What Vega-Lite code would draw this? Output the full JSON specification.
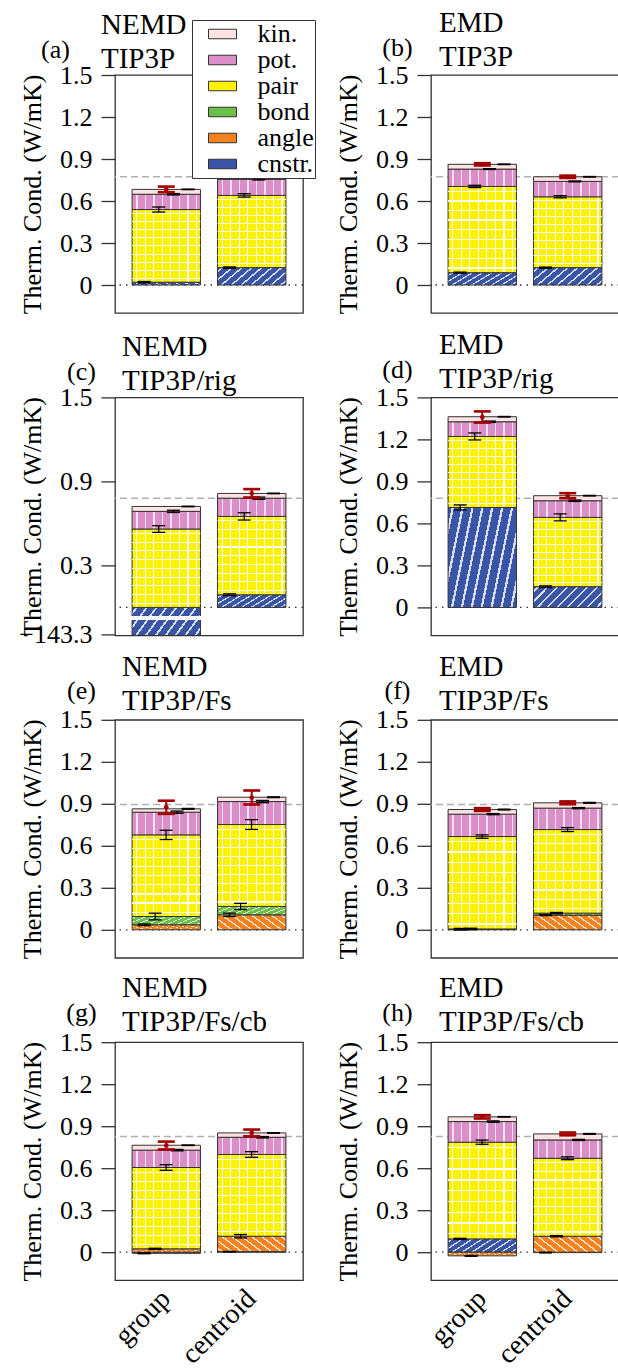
{
"$schema": "https://vega.github.io/schema/vega-lite/v6.json",
"background": "white",
"padding": {"left": 18, "top": 8, "right": 0, "bottom": 0},
"params": [
 {"name": "gPot", "value": {"gradient":"linear","x1":0,"y1":0,"x2":1,"y2":0,"stops":[{"offset":0,"color":"#dc8ec8"},{"offset":0.06,"color":"#dc8ec8"},{"offset":0.06,"color":"#f8e4f2"},{"offset":0.08,"color":"#f8e4f2"},{"offset":0.08,"color":"#dc8ec8"},{"offset":0.185,"color":"#dc8ec8"},{"offset":0.185,"color":"#f8e4f2"},{"offset":0.205,"color":"#f8e4f2"},{"offset":0.205,"color":"#dc8ec8"},{"offset":0.31,"color":"#dc8ec8"},{"offset":0.31,"color":"#f8e4f2"},{"offset":0.33,"color":"#f8e4f2"},{"offset":0.33,"color":"#dc8ec8"},{"offset":0.435,"color":"#dc8ec8"},{"offset":0.435,"color":"#f8e4f2"},{"offset":0.455,"color":"#f8e4f2"},{"offset":0.455,"color":"#dc8ec8"},{"offset":0.56,"color":"#dc8ec8"},{"offset":0.56,"color":"#f8e4f2"},{"offset":0.58,"color":"#f8e4f2"},{"offset":0.58,"color":"#dc8ec8"},{"offset":0.685,"color":"#dc8ec8"},{"offset":0.685,"color":"#f8e4f2"},{"offset":0.705,"color":"#f8e4f2"},{"offset":0.705,"color":"#dc8ec8"},{"offset":0.81,"color":"#dc8ec8"},{"offset":0.81,"color":"#f8e4f2"},{"offset":0.83,"color":"#f8e4f2"},{"offset":0.83,"color":"#dc8ec8"},{"offset":0.935,"color":"#dc8ec8"},{"offset":0.935,"color":"#f8e4f2"},{"offset":0.955,"color":"#f8e4f2"},{"offset":0.955,"color":"#dc8ec8"},{"offset":1,"color":"#dc8ec8"}]}},
 {"name": "gPair", "value": {"gradient":"linear","x1":0,"y1":0,"x2":1,"y2":0,"stops":[{"offset":0,"color":"#fff200"},{"offset":0.06,"color":"#fff200"},{"offset":0.06,"color":"#ffffff"},{"offset":0.076,"color":"#ffffff"},{"offset":0.076,"color":"#fff200"},{"offset":0.185,"color":"#fff200"},{"offset":0.185,"color":"#ffffff"},{"offset":0.201,"color":"#ffffff"},{"offset":0.201,"color":"#fff200"},{"offset":0.31,"color":"#fff200"},{"offset":0.31,"color":"#ffffff"},{"offset":0.326,"color":"#ffffff"},{"offset":0.326,"color":"#fff200"},{"offset":0.435,"color":"#fff200"},{"offset":0.435,"color":"#ffffff"},{"offset":0.451,"color":"#ffffff"},{"offset":0.451,"color":"#fff200"},{"offset":0.56,"color":"#fff200"},{"offset":0.56,"color":"#ffffff"},{"offset":0.576,"color":"#ffffff"},{"offset":0.576,"color":"#fff200"},{"offset":0.685,"color":"#fff200"},{"offset":0.685,"color":"#ffffff"},{"offset":0.701,"color":"#ffffff"},{"offset":0.701,"color":"#fff200"},{"offset":0.81,"color":"#fff200"},{"offset":0.81,"color":"#ffffff"},{"offset":0.826,"color":"#ffffff"},{"offset":0.826,"color":"#fff200"},{"offset":0.935,"color":"#fff200"},{"offset":0.935,"color":"#ffffff"},{"offset":0.951,"color":"#ffffff"},{"offset":0.951,"color":"#fff200"},{"offset":1,"color":"#fff200"}]}},
 {"name": "gHgrid", "value": {"gradient":"linear","x1":0,"y1":0,"x2":0,"y2":1,"stops":[{"offset":0,"color":"rgba(255,255,255,0)"},{"offset":0.05,"color":"rgba(255,255,255,0)"},{"offset":0.05,"color":"#ffffff"},{"offset":0.064,"color":"#ffffff"},{"offset":0.064,"color":"rgba(255,255,255,0)"},{"offset":0.161,"color":"rgba(255,255,255,0)"},{"offset":0.161,"color":"#ffffff"},{"offset":0.175,"color":"#ffffff"},{"offset":0.175,"color":"rgba(255,255,255,0)"},{"offset":0.272,"color":"rgba(255,255,255,0)"},{"offset":0.272,"color":"#ffffff"},{"offset":0.286,"color":"#ffffff"},{"offset":0.286,"color":"rgba(255,255,255,0)"},{"offset":0.383,"color":"rgba(255,255,255,0)"},{"offset":0.383,"color":"#ffffff"},{"offset":0.397,"color":"#ffffff"},{"offset":0.397,"color":"rgba(255,255,255,0)"},{"offset":0.494,"color":"rgba(255,255,255,0)"},{"offset":0.494,"color":"#ffffff"},{"offset":0.508,"color":"#ffffff"},{"offset":0.508,"color":"rgba(255,255,255,0)"},{"offset":0.606,"color":"rgba(255,255,255,0)"},{"offset":0.606,"color":"#ffffff"},{"offset":0.62,"color":"#ffffff"},{"offset":0.62,"color":"rgba(255,255,255,0)"},{"offset":0.717,"color":"rgba(255,255,255,0)"},{"offset":0.717,"color":"#ffffff"},{"offset":0.731,"color":"#ffffff"},{"offset":0.731,"color":"rgba(255,255,255,0)"},{"offset":0.828,"color":"rgba(255,255,255,0)"},{"offset":0.828,"color":"#ffffff"},{"offset":0.842,"color":"#ffffff"},{"offset":0.842,"color":"rgba(255,255,255,0)"},{"offset":0.939,"color":"rgba(255,255,255,0)"},{"offset":0.939,"color":"#ffffff"},{"offset":0.953,"color":"#ffffff"},{"offset":0.953,"color":"rgba(255,255,255,0)"},{"offset":1,"color":"rgba(255,255,255,0)"}]}},
 {"name": "gBond", "value": {"gradient":"linear","x1":0,"y1":0,"x2":1.193,"y2":0.358,"stops":[{"offset":0,"color":"#6abf47"},{"offset":0.04,"color":"#6abf47"},{"offset":0.04,"color":"#e4f4dc"},{"offset":0.066,"color":"#e4f4dc"},{"offset":0.066,"color":"#6abf47"},{"offset":0.151,"color":"#6abf47"},{"offset":0.151,"color":"#e4f4dc"},{"offset":0.177,"color":"#e4f4dc"},{"offset":0.177,"color":"#6abf47"},{"offset":0.262,"color":"#6abf47"},{"offset":0.262,"color":"#e4f4dc"},{"offset":0.288,"color":"#e4f4dc"},{"offset":0.288,"color":"#6abf47"},{"offset":0.373,"color":"#6abf47"},{"offset":0.373,"color":"#e4f4dc"},{"offset":0.399,"color":"#e4f4dc"},{"offset":0.399,"color":"#6abf47"},{"offset":0.484,"color":"#6abf47"},{"offset":0.484,"color":"#e4f4dc"},{"offset":0.51,"color":"#e4f4dc"},{"offset":0.51,"color":"#6abf47"},{"offset":0.596,"color":"#6abf47"},{"offset":0.596,"color":"#e4f4dc"},{"offset":0.622,"color":"#e4f4dc"},{"offset":0.622,"color":"#6abf47"},{"offset":0.707,"color":"#6abf47"},{"offset":0.707,"color":"#e4f4dc"},{"offset":0.733,"color":"#e4f4dc"},{"offset":0.733,"color":"#6abf47"},{"offset":0.818,"color":"#6abf47"},{"offset":0.818,"color":"#e4f4dc"},{"offset":0.844,"color":"#e4f4dc"},{"offset":0.844,"color":"#6abf47"},{"offset":0.929,"color":"#6abf47"},{"offset":0.929,"color":"#e4f4dc"},{"offset":0.955,"color":"#e4f4dc"},{"offset":0.955,"color":"#6abf47"},{"offset":1,"color":"#6abf47"}]}},
 {"name": "gAngle", "value": {"gradient":"linear","x1":0,"y1":1,"x2":1.193,"y2":0.642,"stops":[{"offset":0,"color":"#f5821f"},{"offset":0.04,"color":"#f5821f"},{"offset":0.04,"color":"#fde3cb"},{"offset":0.066,"color":"#fde3cb"},{"offset":0.066,"color":"#f5821f"},{"offset":0.151,"color":"#f5821f"},{"offset":0.151,"color":"#fde3cb"},{"offset":0.177,"color":"#fde3cb"},{"offset":0.177,"color":"#f5821f"},{"offset":0.262,"color":"#f5821f"},{"offset":0.262,"color":"#fde3cb"},{"offset":0.288,"color":"#fde3cb"},{"offset":0.288,"color":"#f5821f"},{"offset":0.373,"color":"#f5821f"},{"offset":0.373,"color":"#fde3cb"},{"offset":0.399,"color":"#fde3cb"},{"offset":0.399,"color":"#f5821f"},{"offset":0.484,"color":"#f5821f"},{"offset":0.484,"color":"#fde3cb"},{"offset":0.51,"color":"#fde3cb"},{"offset":0.51,"color":"#f5821f"},{"offset":0.596,"color":"#f5821f"},{"offset":0.596,"color":"#fde3cb"},{"offset":0.622,"color":"#fde3cb"},{"offset":0.622,"color":"#f5821f"},{"offset":0.707,"color":"#f5821f"},{"offset":0.707,"color":"#fde3cb"},{"offset":0.733,"color":"#fde3cb"},{"offset":0.733,"color":"#f5821f"},{"offset":0.818,"color":"#f5821f"},{"offset":0.818,"color":"#fde3cb"},{"offset":0.844,"color":"#fde3cb"},{"offset":0.844,"color":"#f5821f"},{"offset":0.929,"color":"#f5821f"},{"offset":0.929,"color":"#fde3cb"},{"offset":0.955,"color":"#fde3cb"},{"offset":0.955,"color":"#f5821f"},{"offset":1,"color":"#f5821f"}]}},
 {"name": "gCnstr", "value": {"gradient":"linear","x1":0,"y1":0,"x2":1.193,"y2":0.358,"stops":[{"offset":0,"color":"#3a55a6"},{"offset":0.04,"color":"#3a55a6"},{"offset":0.04,"color":"#d5ddf2"},{"offset":0.066,"color":"#d5ddf2"},{"offset":0.066,"color":"#3a55a6"},{"offset":0.151,"color":"#3a55a6"},{"offset":0.151,"color":"#d5ddf2"},{"offset":0.177,"color":"#d5ddf2"},{"offset":0.177,"color":"#3a55a6"},{"offset":0.262,"color":"#3a55a6"},{"offset":0.262,"color":"#d5ddf2"},{"offset":0.288,"color":"#d5ddf2"},{"offset":0.288,"color":"#3a55a6"},{"offset":0.373,"color":"#3a55a6"},{"offset":0.373,"color":"#d5ddf2"},{"offset":0.399,"color":"#d5ddf2"},{"offset":0.399,"color":"#3a55a6"},{"offset":0.484,"color":"#3a55a6"},{"offset":0.484,"color":"#d5ddf2"},{"offset":0.51,"color":"#d5ddf2"},{"offset":0.51,"color":"#3a55a6"},{"offset":0.596,"color":"#3a55a6"},{"offset":0.596,"color":"#d5ddf2"},{"offset":0.622,"color":"#d5ddf2"},{"offset":0.622,"color":"#3a55a6"},{"offset":0.707,"color":"#3a55a6"},{"offset":0.707,"color":"#d5ddf2"},{"offset":0.733,"color":"#d5ddf2"},{"offset":0.733,"color":"#3a55a6"},{"offset":0.818,"color":"#3a55a6"},{"offset":0.818,"color":"#d5ddf2"},{"offset":0.844,"color":"#d5ddf2"},{"offset":0.844,"color":"#3a55a6"},{"offset":0.929,"color":"#3a55a6"},{"offset":0.929,"color":"#d5ddf2"},{"offset":0.955,"color":"#d5ddf2"},{"offset":0.955,"color":"#3a55a6"},{"offset":1,"color":"#3a55a6"}]}}
],
"config": {
 "font": "Liberation Serif",
 "view": {"stroke": "#333", "strokeWidth": 1.3},
 "title": {"fontSize": 29, "fontWeight": "normal", "anchor": "start", "lineHeight": 34, "offset": 2, "dy": 40, "color": "#000", "font": "Liberation Serif", "frame": "group"},
 "axis": {"labelFont": "Liberation Serif", "titleFont": "Liberation Serif", "labelFontSize": 26, "titleFontSize": 26, "titleFontWeight": "normal", "labelColor": "#000", "titleColor": "#000", "tickColor": "#333", "tickWidth": 1.3, "tickSize": 14, "labelPadding": 9, "domain": false, "grid": false, "labelOverlap": false}
},
"datasets": {
 "comps": [
  {"panel":"a","method":"group","comp":"cnstr.","value":0.020,"err":0.005},
  {"panel":"a","method":"group","comp":"pair","value":0.519,"err":0.018},
  {"panel":"a","method":"group","comp":"pot.","value":0.109,"err":0.005},
  {"panel":"a","method":"group","comp":"kin.","value":0.035,"err":0.002},
  {"panel":"a","method":"centroid","comp":"cnstr.","value":0.124,"err":0.005},
  {"panel":"a","method":"centroid","comp":"pair","value":0.516,"err":0.012},
  {"panel":"a","method":"centroid","comp":"pot.","value":0.115,"err":0.005},
  {"panel":"a","method":"centroid","comp":"kin.","value":0.035,"err":0.002},
  {"panel":"b","method":"group","comp":"cnstr.","value":0.088,"err":0.004},
  {"panel":"b","method":"group","comp":"pair","value":0.616,"err":0.008},
  {"panel":"b","method":"group","comp":"pot.","value":0.124,"err":0.003},
  {"panel":"b","method":"group","comp":"kin.","value":0.034,"err":0.002},
  {"panel":"b","method":"centroid","comp":"cnstr.","value":0.124,"err":0.004},
  {"panel":"b","method":"centroid","comp":"pair","value":0.506,"err":0.008},
  {"panel":"b","method":"centroid","comp":"pot.","value":0.110,"err":0.003},
  {"panel":"b","method":"centroid","comp":"kin.","value":0.033,"err":0.002},
  {"panel":"c","method":"group","comp":"cnstr.","value":-143.3,"err":0},
  {"panel":"c","method":"group","comp":"pair","value":0.560,"err":0.024},
  {"panel":"c","method":"group","comp":"pot.","value":0.126,"err":0.008},
  {"panel":"c","method":"group","comp":"kin.","value":0.035,"err":0.002},
  {"panel":"c","method":"centroid","comp":"cnstr.","value":0.090,"err":0.007},
  {"panel":"c","method":"centroid","comp":"pair","value":0.560,"err":0.026},
  {"panel":"c","method":"centroid","comp":"pot.","value":0.130,"err":0.008},
  {"panel":"c","method":"centroid","comp":"kin.","value":0.034,"err":0.002},
  {"panel":"d","method":"group","comp":"cnstr.","value":0.714,"err":0.018},
  {"panel":"d","method":"group","comp":"pair","value":0.507,"err":0.025},
  {"panel":"d","method":"group","comp":"pot.","value":0.105,"err":0.005},
  {"panel":"d","method":"group","comp":"kin.","value":0.036,"err":0.002},
  {"panel":"d","method":"centroid","comp":"cnstr.","value":0.148,"err":0.006},
  {"panel":"d","method":"centroid","comp":"pair","value":0.495,"err":0.025},
  {"panel":"d","method":"centroid","comp":"pot.","value":0.119,"err":0.005},
  {"panel":"d","method":"centroid","comp":"kin.","value":0.036,"err":0.002},
  {"panel":"e","method":"group","comp":"angle","value":0.036,"err":0.006},
  {"panel":"e","method":"group","comp":"bond","value":0.059,"err":0.024},
  {"panel":"e","method":"group","comp":"pair","value":0.583,"err":0.033},
  {"panel":"e","method":"group","comp":"pot.","value":0.162,"err":0.008},
  {"panel":"e","method":"group","comp":"kin.","value":0.024,"err":0.003},
  {"panel":"e","method":"centroid","comp":"angle","value":0.107,"err":0.012},
  {"panel":"e","method":"centroid","comp":"bond","value":0.060,"err":0.022},
  {"panel":"e","method":"centroid","comp":"pair","value":0.585,"err":0.035},
  {"panel":"e","method":"centroid","comp":"pot.","value":0.164,"err":0.008},
  {"panel":"e","method":"centroid","comp":"kin.","value":0.031,"err":0.003},
  {"panel":"f","method":"group","comp":"angle","value":0.004,"err":0.006},
  {"panel":"f","method":"group","comp":"bond","value":0.002,"err":0.005},
  {"panel":"f","method":"group","comp":"pair","value":0.660,"err":0.012},
  {"panel":"f","method":"group","comp":"pot.","value":0.160,"err":0.004},
  {"panel":"f","method":"group","comp":"kin.","value":0.033,"err":0.003},
  {"panel":"f","method":"centroid","comp":"angle","value":0.105,"err":0.004},
  {"panel":"f","method":"centroid","comp":"bond","value":0.014,"err":0.005},
  {"panel":"f","method":"centroid","comp":"pair","value":0.597,"err":0.014},
  {"panel":"f","method":"centroid","comp":"pot.","value":0.153,"err":0.004},
  {"panel":"f","method":"centroid","comp":"kin.","value":0.038,"err":0.003},
  {"panel":"g","method":"group","comp":"cnstr.","value":-0.008,"err":0.003},
  {"panel":"g","method":"group","comp":"angle","value":0.024,"err":0.004},
  {"panel":"g","method":"group","comp":"pair","value":0.581,"err":0.020},
  {"panel":"g","method":"group","comp":"pot.","value":0.124,"err":0.005},
  {"panel":"g","method":"group","comp":"kin.","value":0.035,"err":0.002},
  {"panel":"g","method":"centroid","comp":"cnstr.","value":0.004,"err":0.002},
  {"panel":"g","method":"centroid","comp":"angle","value":0.110,"err":0.012},
  {"panel":"g","method":"centroid","comp":"pair","value":0.584,"err":0.020},
  {"panel":"g","method":"centroid","comp":"pot.","value":0.123,"err":0.005},
  {"panel":"g","method":"centroid","comp":"kin.","value":0.031,"err":0.002},
  {"panel":"h","method":"group","comp":"cnstr.","value":0.095,"err":0.004},
  {"panel":"h","method":"group","comp":"angle","value":-0.026,"err":0.003},
  {"panel":"h","method":"group","comp":"pair","value":0.691,"err":0.015},
  {"panel":"h","method":"group","comp":"pot.","value":0.147,"err":0.005},
  {"panel":"h","method":"group","comp":"kin.","value":0.034,"err":0.002},
  {"panel":"h","method":"centroid","comp":"cnstr.","value":-0.003,"err":0.002},
  {"panel":"h","method":"centroid","comp":"angle","value":0.114,"err":0.004},
  {"panel":"h","method":"centroid","comp":"pair","value":0.557,"err":0.010},
  {"panel":"h","method":"centroid","comp":"pot.","value":0.131,"err":0.004},
  {"panel":"h","method":"centroid","comp":"kin.","value":0.043,"err":0.003}
 ],
 "totals": [
  {"panel":"a","method":"group","value":0.683,"err":0.02},
  {"panel":"a","method":"centroid","value":0.793,"err":0.016},
  {"panel":"b","method":"group","value":0.862,"err":0.008},
  {"panel":"b","method":"centroid","value":0.773,"err":0.008},
  {"panel":"c","method":"centroid","value":0.815,"err":0.03},
  {"panel":"d","method":"group","value":1.36,"err":0.04},
  {"panel":"d","method":"centroid","value":0.798,"err":0.018},
  {"panel":"e","method":"group","value":0.875,"err":0.047},
  {"panel":"e","method":"centroid","value":0.945,"err":0.05},
  {"panel":"f","method":"group","value":0.859,"err":0.01},
  {"panel":"f","method":"centroid","value":0.907,"err":0.01},
  {"panel":"g","method":"group","value":0.762,"err":0.028},
  {"panel":"g","method":"centroid","value":0.852,"err":0.024},
  {"panel":"h","method":"group","value":0.967,"err":0.012},
  {"panel":"h","method":"centroid","value":0.845,"err":0.01}
 ],
 "refs": [
  {"panel":"a","ref":0.773},{"panel":"b","ref":0.773},{"panel":"c","ref":0.78},{"panel":"d","ref":0.78},
  {"panel":"e","ref":0.895},{"panel":"f","ref":0.895},{"panel":"g","ref":0.826},{"panel":"h","ref":0.826}
 ]
},
"columns": 2,
"spacing": {"row": 84.4, "column": 128},
"bounds": "flush",
"concat": [
 {"width": 188, "height": 238, "title": {"text": ["NEMD", "TIP3P"], "dx": -14}, "resolve": {"scale": {"xOffset": "independent"}},
  "layer": [
   {"data": {"name": "refs"}, "transform": [{"filter": "datum.panel == 'a'"}], "mark": {"type": "rule", "color": "#b0b0b0", "strokeWidth": 1.6, "strokeDash": [7, 4]},
    "encoding": {"y": {"field": "ref", "type": "quantitative", "scale": {"domain": [-0.2, 1.5], "nice": false, "zero": false, "clamp": true},
      "axis": {"title": "Therm. Cond. (W/mK)", "values": [0, 0.3, 0.6, 0.9, 1.2, 1.5], "labelOverlap": false, "labelExpr": "datum.value == 0 ? '0' : format(datum.value, '.1f')", "titleX": -70, "titleY": 119, "titleAngle": 270, "titleAlign": "center", "titleBaseline": "bottom"}}}},
   {"data": {"values": [{"zero": 0}]}, "mark": {"type": "rule", "color": "#333", "strokeWidth": 1.3, "strokeDash": [1.5, 5]}, "encoding": {"y": {"field": "zero", "type": "quantitative"}}},
   {"data": {"name": "comps"},
    "transform": [{"filter": "datum.panel == 'a'"}, {"calculate": "indexof(['cnstr.','angle','bond','pair','pot.','kin.'], datum.comp)", "as": "k"}, {"stack": "value", "groupby": ["method"], "sort": [{"field": "k", "order": "ascending"}], "as": ["v0", "v1"], "offset": "zero"}],
    "encoding": {"x": {"field": "method", "type": "nominal", "scale": {"domain": ["group", "centroid"], "paddingInner": 0.2, "paddingOuter": 0.2},
       "axis": {"title": "(a)", "labels": false, "ticks": false, "titleX": -60, "titleY": -264, "titleAngle": 0, "titleAlign": "center", "titleBaseline": "middle"}},
     "y": {"field": "v0", "type": "quantitative"}, "y2": {"field": "v1"}},
    "layer": [
     {"transform": [{"filter": "datum.comp == 'cnstr.'"}], "mark": {"type": "bar", "fill": {"expr": "gCnstr"}, "stroke": "#333", "strokeWidth": 1, "width": {"band": 1}}},
     {"transform": [{"filter": "datum.comp == 'pair'"}], "mark": {"type": "bar", "fill": {"expr": "gPair"}, "stroke": "#333", "strokeWidth": 1, "width": {"band": 1}}},
     {"transform": [{"filter": "datum.comp == 'pair'"}], "mark": {"type": "bar", "fill": {"expr": "gHgrid"}, "strokeWidth": 0, "width": {"band": 1}}},
     {"transform": [{"filter": "datum.comp == 'pot.'"}], "mark": {"type": "bar", "fill": {"expr": "gPot"}, "stroke": "#333", "strokeWidth": 1, "width": {"band": 1}}},
     {"transform": [{"filter": "datum.comp == 'kin.'"}], "mark": {"type": "bar", "stroke": "#333", "strokeWidth": 1, "width": {"band": 1}},
      "encoding": {"fill": {"field": "comp", "type": "nominal",
       "scale": {"domain": ["kin.", "pot.", "pair", "bond", "angle", "cnstr."], "range": ["#fde3e3", "#dc8ec8", "#fff200", "#6abf47", "#f5821f", "#3a55a6"]},
       "legend": {"orient": "none", "legendX": 77, "legendY": -55, "title": null, "symbolType": "M-2,-0.68H2V0.68H-2Z", "symbolSize": 196, "symbolOffset": 16.5, "symbolStrokeColor": "#333", "symbolStrokeWidth": 1, "symbolOpacity": 1, "labelFontSize": 26, "labelFont": "Liberation Serif", "labelColor": "#000", "labelOffset": 22, "rowPadding": -6, "padding": 1, "strokeColor": "#333", "fillColor": "white", "labelLimit": 200}}}}
    ]},
   {"data": {"name": "comps"},
    "transform": [{"filter": "datum.panel == 'a'"}, {"calculate": "indexof(['cnstr.','angle','bond','pair','pot.','kin.'], datum.comp)", "as": "k"}, {"stack": "value", "groupby": ["method"], "sort": [{"field": "k", "order": "ascending"}], "as": ["v0", "v1"], "offset": "zero"}, {"window": [{"op": "rank", "as": "r"}], "sort": [{"field": "k", "order": "ascending"}], "groupby": ["method"]}, {"joinaggregate": [{"op": "count", "as": "n"}], "groupby": ["method"]}, {"calculate": "(datum.r - 1) / (datum.n - 1)", "as": "xo"}, {"filter": "datum.err > 0"}, {"calculate": "datum.v1 - datum.err", "as": "lo"}, {"calculate": "datum.v1 + datum.err", "as": "hi"}],
    "encoding": {"x": {"field": "method", "type": "nominal"}, "xOffset": {"field": "xo", "type": "quantitative", "scale": {"domain": [0, 1], "range": [12, 56]}}},
    "layer": [
     {"mark": {"type": "rule", "color": "#000", "strokeWidth": 1.2}, "encoding": {"y": {"field": "lo", "type": "quantitative"}, "y2": {"field": "hi"}}},
     {"mark": {"type": "tick", "orient": "horizontal", "color": "#000", "thickness": 1.3, "size": 13, "opacity": 1}, "encoding": {"y": {"field": "lo", "type": "quantitative"}}},
     {"mark": {"type": "tick", "orient": "horizontal", "color": "#000", "thickness": 1.3, "size": 13, "opacity": 1}, "encoding": {"y": {"field": "hi", "type": "quantitative"}}}
    ]},
   {"data": {"name": "totals"}, "transform": [{"filter": "datum.panel == 'a'"}, {"calculate": "datum.value - datum.err", "as": "lo"}, {"calculate": "datum.value + datum.err", "as": "hi"}],
    "encoding": {"x": {"field": "method", "type": "nominal"}},
    "layer": [
     {"mark": {"type": "rule", "color": "#a50000", "strokeWidth": 2}, "encoding": {"y": {"field": "lo", "type": "quantitative"}, "y2": {"field": "hi"}}},
     {"mark": {"type": "tick", "orient": "horizontal", "color": "#a50000", "thickness": 2.6, "size": 17, "opacity": 1}, "encoding": {"y": {"field": "lo", "type": "quantitative"}}},
     {"mark": {"type": "tick", "orient": "horizontal", "color": "#a50000", "thickness": 2.6, "size": 17, "opacity": 1}, "encoding": {"y": {"field": "hi", "type": "quantitative"}}},
     {"mark": {"type": "point", "filled": true, "color": "#a50000", "size": 22, "opacity": 1}, "encoding": {"y": {"field": "value", "type": "quantitative"}}}
    ]}
  ]},
 {"width": 188, "height": 238, "title": {"text": ["EMD", "TIP3P"], "dx": 8}, "resolve": {"scale": {"xOffset": "independent"}},
  "layer": [
   {"data": {"name": "refs"}, "transform": [{"filter": "datum.panel == 'b'"}], "mark": {"type": "rule", "color": "#b0b0b0", "strokeWidth": 1.6, "strokeDash": [7, 4]},
    "encoding": {"y": {"field": "ref", "type": "quantitative", "scale": {"domain": [-0.2, 1.5], "nice": false, "zero": false, "clamp": true},
      "axis": {"title": "Therm. Cond. (W/mK)", "values": [0, 0.3, 0.6, 0.9, 1.2, 1.5], "labelOverlap": false, "labelExpr": "datum.value == 0 ? '0' : format(datum.value, '.1f')", "titleX": -70, "titleY": 119, "titleAngle": 270, "titleAlign": "center", "titleBaseline": "bottom"}}}},
   {"data": {"values": [{"zero": 0}]}, "mark": {"type": "rule", "color": "#333", "strokeWidth": 1.3, "strokeDash": [1.5, 5]}, "encoding": {"y": {"field": "zero", "type": "quantitative"}}},
   {"data": {"name": "comps"},
    "transform": [{"filter": "datum.panel == 'b'"}, {"calculate": "indexof(['cnstr.','angle','bond','pair','pot.','kin.'], datum.comp)", "as": "k"}, {"stack": "value", "groupby": ["method"], "sort": [{"field": "k", "order": "ascending"}], "as": ["v0", "v1"], "offset": "zero"}],
    "encoding": {"x": {"field": "method", "type": "nominal", "scale": {"domain": ["group", "centroid"], "paddingInner": 0.2, "paddingOuter": 0.2},
       "axis": {"title": "(b)", "labels": false, "ticks": false, "titleX": -34, "titleY": -266, "titleAngle": 0, "titleAlign": "center", "titleBaseline": "middle"}},
     "y": {"field": "v0", "type": "quantitative"}, "y2": {"field": "v1"}},
    "layer": [
     {"transform": [{"filter": "datum.comp == 'cnstr.'"}], "mark": {"type": "bar", "fill": {"expr": "gCnstr"}, "stroke": "#333", "strokeWidth": 1, "width": {"band": 1}}},
     {"transform": [{"filter": "datum.comp == 'pair'"}], "mark": {"type": "bar", "fill": {"expr": "gPair"}, "stroke": "#333", "strokeWidth": 1, "width": {"band": 1}}},
     {"transform": [{"filter": "datum.comp == 'pair'"}], "mark": {"type": "bar", "fill": {"expr": "gHgrid"}, "strokeWidth": 0, "width": {"band": 1}}},
     {"transform": [{"filter": "datum.comp == 'pot.'"}], "mark": {"type": "bar", "fill": {"expr": "gPot"}, "stroke": "#333", "strokeWidth": 1, "width": {"band": 1}}},
     {"transform": [{"filter": "datum.comp == 'kin.'"}], "mark": {"type": "bar", "fill": "#fde3e3", "stroke": "#333", "strokeWidth": 1, "width": {"band": 1}}}
    ]},
   {"data": {"name": "comps"},
    "transform": [{"filter": "datum.panel == 'b'"}, {"calculate": "indexof(['cnstr.','angle','bond','pair','pot.','kin.'], datum.comp)", "as": "k"}, {"stack": "value", "groupby": ["method"], "sort": [{"field": "k", "order": "ascending"}], "as": ["v0", "v1"], "offset": "zero"}, {"window": [{"op": "rank", "as": "r"}], "sort": [{"field": "k", "order": "ascending"}], "groupby": ["method"]}, {"joinaggregate": [{"op": "count", "as": "n"}], "groupby": ["method"]}, {"calculate": "(datum.r - 1) / (datum.n - 1)", "as": "xo"}, {"filter": "datum.err > 0"}, {"calculate": "datum.v1 - datum.err", "as": "lo"}, {"calculate": "datum.v1 + datum.err", "as": "hi"}],
    "encoding": {"x": {"field": "method", "type": "nominal"}, "xOffset": {"field": "xo", "type": "quantitative", "scale": {"domain": [0, 1], "range": [12, 56]}}},
    "layer": [
     {"mark": {"type": "rule", "color": "#000", "strokeWidth": 1.2}, "encoding": {"y": {"field": "lo", "type": "quantitative"}, "y2": {"field": "hi"}}},
     {"mark": {"type": "tick", "orient": "horizontal", "color": "#000", "thickness": 1.3, "size": 13, "opacity": 1}, "encoding": {"y": {"field": "lo", "type": "quantitative"}}},
     {"mark": {"type": "tick", "orient": "horizontal", "color": "#000", "thickness": 1.3, "size": 13, "opacity": 1}, "encoding": {"y": {"field": "hi", "type": "quantitative"}}}
    ]},
   {"data": {"name": "totals"}, "transform": [{"filter": "datum.panel == 'b'"}, {"calculate": "datum.value - datum.err", "as": "lo"}, {"calculate": "datum.value + datum.err", "as": "hi"}],
    "encoding": {"x": {"field": "method", "type": "nominal"}},
    "layer": [
     {"mark": {"type": "rule", "color": "#a50000", "strokeWidth": 2}, "encoding": {"y": {"field": "lo", "type": "quantitative"}, "y2": {"field": "hi"}}},
     {"mark": {"type": "tick", "orient": "horizontal", "color": "#a50000", "thickness": 2.6, "size": 17, "opacity": 1}, "encoding": {"y": {"field": "lo", "type": "quantitative"}}},
     {"mark": {"type": "tick", "orient": "horizontal", "color": "#a50000", "thickness": 2.6, "size": 17, "opacity": 1}, "encoding": {"y": {"field": "hi", "type": "quantitative"}}},
     {"mark": {"type": "point", "filled": true, "color": "#a50000", "size": 22, "opacity": 1}, "encoding": {"y": {"field": "value", "type": "quantitative"}}}
    ]}
  ]},
 {"width": 188, "height": 238, "title": {"text": ["NEMD", "TIP3P/rig"], "dx": 7}, "resolve": {"scale": {"xOffset": "independent"}},
  "layer": [
   {"data": {"name": "refs"}, "transform": [{"filter": "datum.panel == 'c'"}], "mark": {"type": "rule", "color": "#b0b0b0", "strokeWidth": 1.6, "strokeDash": [7, 4]},
    "encoding": {"y": {"field": "ref", "type": "quantitative", "scale": {"domain": [-0.2, 1.5], "nice": false, "zero": false, "clamp": true},
      "axis": {"title": "Therm. Cond. (W/mK)", "values": [-0.19, 0, 0.3, 0.6, 0.9, 1.2, 1.5], "labelOverlap": false, "labelSeparation": -12, "labelExpr": "datum.value < -0.1 ? '−143.3' : (datum.value == 0 ? '0' : format(datum.value, '.1f'))", "titleX": -70, "titleY": 119, "titleAngle": 270, "titleAlign": "center", "titleBaseline": "bottom"}}}},
   {"data": {"values": [{"zero": 0}]}, "mark": {"type": "rule", "color": "#333", "strokeWidth": 1.3, "strokeDash": [1.5, 5]}, "encoding": {"y": {"field": "zero", "type": "quantitative"}}},
   {"data": {"name": "comps"},
    "transform": [{"filter": "datum.panel == 'c'"}, {"calculate": "indexof(['cnstr.','angle','bond','pair','pot.','kin.'], datum.comp)", "as": "k"}, {"stack": "value", "groupby": ["method"], "sort": [{"field": "k", "order": "ascending"}], "as": ["v0", "v1"], "offset": "zero"}],
    "encoding": {"x": {"field": "method", "type": "nominal", "scale": {"domain": ["group", "centroid"], "paddingInner": 0.2, "paddingOuter": 0.2},
       "axis": {"title": "(c)", "labels": false, "ticks": false, "titleX": -34, "titleY": -264, "titleAngle": 0, "titleAlign": "center", "titleBaseline": "middle"}},
     "y": {"field": "v0", "type": "quantitative"}, "y2": {"field": "v1"}},
    "layer": [
     {"transform": [{"filter": "datum.comp == 'cnstr.'"}], "mark": {"type": "bar", "fill": {"expr": "gCnstr"}, "stroke": "#333", "strokeWidth": 1, "width": {"band": 1}}},
     {"transform": [{"filter": "datum.comp == 'pair'"}], "mark": {"type": "bar", "fill": {"expr": "gPair"}, "stroke": "#333", "strokeWidth": 1, "width": {"band": 1}}},
     {"transform": [{"filter": "datum.comp == 'pair'"}], "mark": {"type": "bar", "fill": {"expr": "gHgrid"}, "strokeWidth": 0, "width": {"band": 1}}},
     {"transform": [{"filter": "datum.comp == 'pot.'"}], "mark": {"type": "bar", "fill": {"expr": "gPot"}, "stroke": "#333", "strokeWidth": 1, "width": {"band": 1}}},
     {"transform": [{"filter": "datum.comp == 'kin.'"}], "mark": {"type": "bar", "fill": "#fde3e3", "stroke": "#333", "strokeWidth": 1, "width": {"band": 1}}}
    ]},
   {"data": {"values": [{}]}, "mark": {"type": "bar", "fill": "white", "strokeWidth": 0, "width": {"band": 1.06}},
    "encoding": {"x": {"datum": "group", "type": "nominal"}, "y": {"datum": -0.062, "type": "quantitative"}, "y2": {"datum": -0.09}}},
   {"data": {"name": "comps"},
    "transform": [{"filter": "datum.panel == 'c'"}, {"calculate": "indexof(['cnstr.','angle','bond','pair','pot.','kin.'], datum.comp)", "as": "k"}, {"stack": "value", "groupby": ["method"], "sort": [{"field": "k", "order": "ascending"}], "as": ["v0", "v1"], "offset": "zero"}, {"window": [{"op": "rank", "as": "r"}], "sort": [{"field": "k", "order": "ascending"}], "groupby": ["method"]}, {"joinaggregate": [{"op": "count", "as": "n"}], "groupby": ["method"]}, {"calculate": "(datum.r - 1) / (datum.n - 1)", "as": "xo"}, {"filter": "datum.err > 0"}, {"calculate": "datum.v1 - datum.err", "as": "lo"}, {"calculate": "datum.v1 + datum.err", "as": "hi"}],
    "encoding": {"x": {"field": "method", "type": "nominal"}, "xOffset": {"field": "xo", "type": "quantitative", "scale": {"domain": [0, 1], "range": [12, 56]}}},
    "layer": [
     {"mark": {"type": "rule", "color": "#000", "strokeWidth": 1.2}, "encoding": {"y": {"field": "lo", "type": "quantitative"}, "y2": {"field": "hi"}}},
     {"mark": {"type": "tick", "orient": "horizontal", "color": "#000", "thickness": 1.3, "size": 13, "opacity": 1}, "encoding": {"y": {"field": "lo", "type": "quantitative"}}},
     {"mark": {"type": "tick", "orient": "horizontal", "color": "#000", "thickness": 1.3, "size": 13, "opacity": 1}, "encoding": {"y": {"field": "hi", "type": "quantitative"}}}
    ]},
   {"data": {"name": "totals"}, "transform": [{"filter": "datum.panel == 'c'"}, {"calculate": "datum.value - datum.err", "as": "lo"}, {"calculate": "datum.value + datum.err", "as": "hi"}],
    "encoding": {"x": {"field": "method", "type": "nominal"}},
    "layer": [
     {"mark": {"type": "rule", "color": "#a50000", "strokeWidth": 2}, "encoding": {"y": {"field": "lo", "type": "quantitative"}, "y2": {"field": "hi"}}},
     {"mark": {"type": "tick", "orient": "horizontal", "color": "#a50000", "thickness": 2.6, "size": 17, "opacity": 1}, "encoding": {"y": {"field": "lo", "type": "quantitative"}}},
     {"mark": {"type": "tick", "orient": "horizontal", "color": "#a50000", "thickness": 2.6, "size": 17, "opacity": 1}, "encoding": {"y": {"field": "hi", "type": "quantitative"}}},
     {"mark": {"type": "point", "filled": true, "color": "#a50000", "size": 22, "opacity": 1}, "encoding": {"y": {"field": "value", "type": "quantitative"}}}
    ]}
  ]},
 {"width": 188, "height": 238, "title": {"text": ["EMD", "TIP3P/rig"], "dx": 8}, "resolve": {"scale": {"xOffset": "independent"}},
  "layer": [
   {"data": {"name": "refs"}, "transform": [{"filter": "datum.panel == 'd'"}], "mark": {"type": "rule", "color": "#b0b0b0", "strokeWidth": 1.6, "strokeDash": [7, 4]},
    "encoding": {"y": {"field": "ref", "type": "quantitative", "scale": {"domain": [-0.2, 1.5], "nice": false, "zero": false, "clamp": true},
      "axis": {"title": "Therm. Cond. (W/mK)", "values": [0, 0.3, 0.6, 0.9, 1.2, 1.5], "labelOverlap": false, "labelExpr": "datum.value == 0 ? '0' : format(datum.value, '.1f')", "titleX": -70, "titleY": 119, "titleAngle": 270, "titleAlign": "center", "titleBaseline": "bottom"}}}},
   {"data": {"values": [{"zero": 0}]}, "mark": {"type": "rule", "color": "#333", "strokeWidth": 1.3, "strokeDash": [1.5, 5]}, "encoding": {"y": {"field": "zero", "type": "quantitative"}}},
   {"data": {"name": "comps"},
    "transform": [{"filter": "datum.panel == 'd'"}, {"calculate": "indexof(['cnstr.','angle','bond','pair','pot.','kin.'], datum.comp)", "as": "k"}, {"stack": "value", "groupby": ["method"], "sort": [{"field": "k", "order": "ascending"}], "as": ["v0", "v1"], "offset": "zero"}],
    "encoding": {"x": {"field": "method", "type": "nominal", "scale": {"domain": ["group", "centroid"], "paddingInner": 0.2, "paddingOuter": 0.2},
       "axis": {"title": "(d)", "labels": false, "ticks": false, "titleX": -34, "titleY": -266, "titleAngle": 0, "titleAlign": "center", "titleBaseline": "middle"}},
     "y": {"field": "v0", "type": "quantitative"}, "y2": {"field": "v1"}},
    "layer": [
     {"transform": [{"filter": "datum.comp == 'cnstr.'"}], "mark": {"type": "bar", "fill": {"expr": "gCnstr"}, "stroke": "#333", "strokeWidth": 1, "width": {"band": 1}}},
     {"transform": [{"filter": "datum.comp == 'pair'"}], "mark": {"type": "bar", "fill": {"expr": "gPair"}, "stroke": "#333", "strokeWidth": 1, "width": {"band": 1}}},
     {"transform": [{"filter": "datum.comp == 'pair'"}], "mark": {"type": "bar", "fill": {"expr": "gHgrid"}, "strokeWidth": 0, "width": {"band": 1}}},
     {"transform": [{"filter": "datum.comp == 'pot.'"}], "mark": {"type": "bar", "fill": {"expr": "gPot"}, "stroke": "#333", "strokeWidth": 1, "width": {"band": 1}}},
     {"transform": [{"filter": "datum.comp == 'kin.'"}], "mark": {"type": "bar", "fill": "#fde3e3", "stroke": "#333", "strokeWidth": 1, "width": {"band": 1}}}
    ]},
   {"data": {"name": "comps"},
    "transform": [{"filter": "datum.panel == 'd'"}, {"calculate": "indexof(['cnstr.','angle','bond','pair','pot.','kin.'], datum.comp)", "as": "k"}, {"stack": "value", "groupby": ["method"], "sort": [{"field": "k", "order": "ascending"}], "as": ["v0", "v1"], "offset": "zero"}, {"window": [{"op": "rank", "as": "r"}], "sort": [{"field": "k", "order": "ascending"}], "groupby": ["method"]}, {"joinaggregate": [{"op": "count", "as": "n"}], "groupby": ["method"]}, {"calculate": "(datum.r - 1) / (datum.n - 1)", "as": "xo"}, {"filter": "datum.err > 0"}, {"calculate": "datum.v1 - datum.err", "as": "lo"}, {"calculate": "datum.v1 + datum.err", "as": "hi"}],
    "encoding": {"x": {"field": "method", "type": "nominal"}, "xOffset": {"field": "xo", "type": "quantitative", "scale": {"domain": [0, 1], "range": [12, 56]}}},
    "layer": [
     {"mark": {"type": "rule", "color": "#000", "strokeWidth": 1.2}, "encoding": {"y": {"field": "lo", "type": "quantitative"}, "y2": {"field": "hi"}}},
     {"mark": {"type": "tick", "orient": "horizontal", "color": "#000", "thickness": 1.3, "size": 13, "opacity": 1}, "encoding": {"y": {"field": "lo", "type": "quantitative"}}},
     {"mark": {"type": "tick", "orient": "horizontal", "color": "#000", "thickness": 1.3, "size": 13, "opacity": 1}, "encoding": {"y": {"field": "hi", "type": "quantitative"}}}
    ]},
   {"data": {"name": "totals"}, "transform": [{"filter": "datum.panel == 'd'"}, {"calculate": "datum.value - datum.err", "as": "lo"}, {"calculate": "datum.value + datum.err", "as": "hi"}],
    "encoding": {"x": {"field": "method", "type": "nominal"}},
    "layer": [
     {"mark": {"type": "rule", "color": "#a50000", "strokeWidth": 2}, "encoding": {"y": {"field": "lo", "type": "quantitative"}, "y2": {"field": "hi"}}},
     {"mark": {"type": "tick", "orient": "horizontal", "color": "#a50000", "thickness": 2.6, "size": 17, "opacity": 1}, "encoding": {"y": {"field": "lo", "type": "quantitative"}}},
     {"mark": {"type": "tick", "orient": "horizontal", "color": "#a50000", "thickness": 2.6, "size": 17, "opacity": 1}, "encoding": {"y": {"field": "hi", "type": "quantitative"}}},
     {"mark": {"type": "point", "filled": true, "color": "#a50000", "size": 22, "opacity": 1}, "encoding": {"y": {"field": "value", "type": "quantitative"}}}
    ]}
  ]},
 {"width": 188, "height": 238, "title": {"text": ["NEMD", "TIP3P/Fs"], "dx": 7}, "resolve": {"scale": {"xOffset": "independent"}},
  "layer": [
   {"data": {"name": "refs"}, "transform": [{"filter": "datum.panel == 'e'"}], "mark": {"type": "rule", "color": "#b0b0b0", "strokeWidth": 1.6, "strokeDash": [7, 4]},
    "encoding": {"y": {"field": "ref", "type": "quantitative", "scale": {"domain": [-0.2, 1.5], "nice": false, "zero": false, "clamp": true},
      "axis": {"title": "Therm. Cond. (W/mK)", "values": [0, 0.3, 0.6, 0.9, 1.2, 1.5], "labelOverlap": false, "labelExpr": "datum.value == 0 ? '0' : format(datum.value, '.1f')", "titleX": -70, "titleY": 119, "titleAngle": 270, "titleAlign": "center", "titleBaseline": "bottom"}}}},
   {"data": {"values": [{"zero": 0}]}, "mark": {"type": "rule", "color": "#333", "strokeWidth": 1.3, "strokeDash": [1.5, 5]}, "encoding": {"y": {"field": "zero", "type": "quantitative"}}},
   {"data": {"name": "comps"},
    "transform": [{"filter": "datum.panel == 'e'"}, {"calculate": "indexof(['cnstr.','angle','bond','pair','pot.','kin.'], datum.comp)", "as": "k"}, {"stack": "value", "groupby": ["method"], "sort": [{"field": "k", "order": "ascending"}], "as": ["v0", "v1"], "offset": "zero"}],
    "encoding": {"x": {"field": "method", "type": "nominal", "scale": {"domain": ["group", "centroid"], "paddingInner": 0.2, "paddingOuter": 0.2},
       "axis": {"title": "(e)", "labels": false, "ticks": false, "titleX": -34, "titleY": -267, "titleAngle": 0, "titleAlign": "center", "titleBaseline": "middle"}},
     "y": {"field": "v0", "type": "quantitative"}, "y2": {"field": "v1"}},
    "layer": [
     {"transform": [{"filter": "datum.comp == 'angle'"}], "mark": {"type": "bar", "fill": {"expr": "gAngle"}, "stroke": "#333", "strokeWidth": 1, "width": {"band": 1}}},
     {"transform": [{"filter": "datum.comp == 'bond'"}], "mark": {"type": "bar", "fill": {"expr": "gBond"}, "stroke": "#333", "strokeWidth": 1, "width": {"band": 1}}},
     {"transform": [{"filter": "datum.comp == 'pair'"}], "mark": {"type": "bar", "fill": {"expr": "gPair"}, "stroke": "#333", "strokeWidth": 1, "width": {"band": 1}}},
     {"transform": [{"filter": "datum.comp == 'pair'"}], "mark": {"type": "bar", "fill": {"expr": "gHgrid"}, "strokeWidth": 0, "width": {"band": 1}}},
     {"transform": [{"filter": "datum.comp == 'pot.'"}], "mark": {"type": "bar", "fill": {"expr": "gPot"}, "stroke": "#333", "strokeWidth": 1, "width": {"band": 1}}},
     {"transform": [{"filter": "datum.comp == 'kin.'"}], "mark": {"type": "bar", "fill": "#fde3e3", "stroke": "#333", "strokeWidth": 1, "width": {"band": 1}}}
    ]},
   {"data": {"name": "comps"},
    "transform": [{"filter": "datum.panel == 'e'"}, {"calculate": "indexof(['cnstr.','angle','bond','pair','pot.','kin.'], datum.comp)", "as": "k"}, {"stack": "value", "groupby": ["method"], "sort": [{"field": "k", "order": "ascending"}], "as": ["v0", "v1"], "offset": "zero"}, {"window": [{"op": "rank", "as": "r"}], "sort": [{"field": "k", "order": "ascending"}], "groupby": ["method"]}, {"joinaggregate": [{"op": "count", "as": "n"}], "groupby": ["method"]}, {"calculate": "(datum.r - 1) / (datum.n - 1)", "as": "xo"}, {"filter": "datum.err > 0"}, {"calculate": "datum.v1 - datum.err", "as": "lo"}, {"calculate": "datum.v1 + datum.err", "as": "hi"}],
    "encoding": {"x": {"field": "method", "type": "nominal"}, "xOffset": {"field": "xo", "type": "quantitative", "scale": {"domain": [0, 1], "range": [12, 56]}}},
    "layer": [
     {"mark": {"type": "rule", "color": "#000", "strokeWidth": 1.2}, "encoding": {"y": {"field": "lo", "type": "quantitative"}, "y2": {"field": "hi"}}},
     {"mark": {"type": "tick", "orient": "horizontal", "color": "#000", "thickness": 1.3, "size": 13, "opacity": 1}, "encoding": {"y": {"field": "lo", "type": "quantitative"}}},
     {"mark": {"type": "tick", "orient": "horizontal", "color": "#000", "thickness": 1.3, "size": 13, "opacity": 1}, "encoding": {"y": {"field": "hi", "type": "quantitative"}}}
    ]},
   {"data": {"name": "totals"}, "transform": [{"filter": "datum.panel == 'e'"}, {"calculate": "datum.value - datum.err", "as": "lo"}, {"calculate": "datum.value + datum.err", "as": "hi"}],
    "encoding": {"x": {"field": "method", "type": "nominal"}},
    "layer": [
     {"mark": {"type": "rule", "color": "#a50000", "strokeWidth": 2}, "encoding": {"y": {"field": "lo", "type": "quantitative"}, "y2": {"field": "hi"}}},
     {"mark": {"type": "tick", "orient": "horizontal", "color": "#a50000", "thickness": 2.6, "size": 17, "opacity": 1}, "encoding": {"y": {"field": "lo", "type": "quantitative"}}},
     {"mark": {"type": "tick", "orient": "horizontal", "color": "#a50000", "thickness": 2.6, "size": 17, "opacity": 1}, "encoding": {"y": {"field": "hi", "type": "quantitative"}}},
     {"mark": {"type": "point", "filled": true, "color": "#a50000", "size": 22, "opacity": 1}, "encoding": {"y": {"field": "value", "type": "quantitative"}}}
    ]}
  ]},
 {"width": 188, "height": 238, "title": {"text": ["EMD", "TIP3P/Fs"], "dx": 8}, "resolve": {"scale": {"xOffset": "independent"}},
  "layer": [
   {"data": {"name": "refs"}, "transform": [{"filter": "datum.panel == 'f'"}], "mark": {"type": "rule", "color": "#b0b0b0", "strokeWidth": 1.6, "strokeDash": [7, 4]},
    "encoding": {"y": {"field": "ref", "type": "quantitative", "scale": {"domain": [-0.2, 1.5], "nice": false, "zero": false, "clamp": true},
      "axis": {"title": "Therm. Cond. (W/mK)", "values": [0, 0.3, 0.6, 0.9, 1.2, 1.5], "labelOverlap": false, "labelExpr": "datum.value == 0 ? '0' : format(datum.value, '.1f')", "titleX": -70, "titleY": 119, "titleAngle": 270, "titleAlign": "center", "titleBaseline": "bottom"}}}},
   {"data": {"values": [{"zero": 0}]}, "mark": {"type": "rule", "color": "#333", "strokeWidth": 1.3, "strokeDash": [1.5, 5]}, "encoding": {"y": {"field": "zero", "type": "quantitative"}}},
   {"data": {"name": "comps"},
    "transform": [{"filter": "datum.panel == 'f'"}, {"calculate": "indexof(['cnstr.','angle','bond','pair','pot.','kin.'], datum.comp)", "as": "k"}, {"stack": "value", "groupby": ["method"], "sort": [{"field": "k", "order": "ascending"}], "as": ["v0", "v1"], "offset": "zero"}],
    "encoding": {"x": {"field": "method", "type": "nominal", "scale": {"domain": ["group", "centroid"], "paddingInner": 0.2, "paddingOuter": 0.2},
       "axis": {"title": "(f)", "labels": false, "ticks": false, "titleX": -34, "titleY": -267, "titleAngle": 0, "titleAlign": "center", "titleBaseline": "middle"}},
     "y": {"field": "v0", "type": "quantitative"}, "y2": {"field": "v1"}},
    "layer": [
     {"transform": [{"filter": "datum.comp == 'angle'"}], "mark": {"type": "bar", "fill": {"expr": "gAngle"}, "stroke": "#333", "strokeWidth": 1, "width": {"band": 1}}},
     {"transform": [{"filter": "datum.comp == 'bond'"}], "mark": {"type": "bar", "fill": {"expr": "gBond"}, "stroke": "#333", "strokeWidth": 1, "width": {"band": 1}}},
     {"transform": [{"filter": "datum.comp == 'pair'"}], "mark": {"type": "bar", "fill": {"expr": "gPair"}, "stroke": "#333", "strokeWidth": 1, "width": {"band": 1}}},
     {"transform": [{"filter": "datum.comp == 'pair'"}], "mark": {"type": "bar", "fill": {"expr": "gHgrid"}, "strokeWidth": 0, "width": {"band": 1}}},
     {"transform": [{"filter": "datum.comp == 'pot.'"}], "mark": {"type": "bar", "fill": {"expr": "gPot"}, "stroke": "#333", "strokeWidth": 1, "width": {"band": 1}}},
     {"transform": [{"filter": "datum.comp == 'kin.'"}], "mark": {"type": "bar", "fill": "#fde3e3", "stroke": "#333", "strokeWidth": 1, "width": {"band": 1}}}
    ]},
   {"data": {"name": "comps"},
    "transform": [{"filter": "datum.panel == 'f'"}, {"calculate": "indexof(['cnstr.','angle','bond','pair','pot.','kin.'], datum.comp)", "as": "k"}, {"stack": "value", "groupby": ["method"], "sort": [{"field": "k", "order": "ascending"}], "as": ["v0", "v1"], "offset": "zero"}, {"window": [{"op": "rank", "as": "r"}], "sort": [{"field": "k", "order": "ascending"}], "groupby": ["method"]}, {"joinaggregate": [{"op": "count", "as": "n"}], "groupby": ["method"]}, {"calculate": "(datum.r - 1) / (datum.n - 1)", "as": "xo"}, {"filter": "datum.err > 0"}, {"calculate": "datum.v1 - datum.err", "as": "lo"}, {"calculate": "datum.v1 + datum.err", "as": "hi"}],
    "encoding": {"x": {"field": "method", "type": "nominal"}, "xOffset": {"field": "xo", "type": "quantitative", "scale": {"domain": [0, 1], "range": [12, 56]}}},
    "layer": [
     {"mark": {"type": "rule", "color": "#000", "strokeWidth": 1.2}, "encoding": {"y": {"field": "lo", "type": "quantitative"}, "y2": {"field": "hi"}}},
     {"mark": {"type": "tick", "orient": "horizontal", "color": "#000", "thickness": 1.3, "size": 13, "opacity": 1}, "encoding": {"y": {"field": "lo", "type": "quantitative"}}},
     {"mark": {"type": "tick", "orient": "horizontal", "color": "#000", "thickness": 1.3, "size": 13, "opacity": 1}, "encoding": {"y": {"field": "hi", "type": "quantitative"}}}
    ]},
   {"data": {"name": "totals"}, "transform": [{"filter": "datum.panel == 'f'"}, {"calculate": "datum.value - datum.err", "as": "lo"}, {"calculate": "datum.value + datum.err", "as": "hi"}],
    "encoding": {"x": {"field": "method", "type": "nominal"}},
    "layer": [
     {"mark": {"type": "rule", "color": "#a50000", "strokeWidth": 2}, "encoding": {"y": {"field": "lo", "type": "quantitative"}, "y2": {"field": "hi"}}},
     {"mark": {"type": "tick", "orient": "horizontal", "color": "#a50000", "thickness": 2.6, "size": 17, "opacity": 1}, "encoding": {"y": {"field": "lo", "type": "quantitative"}}},
     {"mark": {"type": "tick", "orient": "horizontal", "color": "#a50000", "thickness": 2.6, "size": 17, "opacity": 1}, "encoding": {"y": {"field": "hi", "type": "quantitative"}}},
     {"mark": {"type": "point", "filled": true, "color": "#a50000", "size": 22, "opacity": 1}, "encoding": {"y": {"field": "value", "type": "quantitative"}}}
    ]}
  ]},
 {"width": 188, "height": 238, "title": {"text": ["NEMD", "TIP3P/Fs/cb"], "dx": 7}, "resolve": {"scale": {"xOffset": "independent"}},
  "layer": [
   {"data": {"name": "refs"}, "transform": [{"filter": "datum.panel == 'g'"}], "mark": {"type": "rule", "color": "#b0b0b0", "strokeWidth": 1.6, "strokeDash": [7, 4]},
    "encoding": {"y": {"field": "ref", "type": "quantitative", "scale": {"domain": [-0.2, 1.5], "nice": false, "zero": false, "clamp": true},
      "axis": {"title": "Therm. Cond. (W/mK)", "values": [0, 0.3, 0.6, 0.9, 1.2, 1.5], "labelOverlap": false, "labelExpr": "datum.value == 0 ? '0' : format(datum.value, '.1f')", "titleX": -70, "titleY": 119, "titleAngle": 270, "titleAlign": "center", "titleBaseline": "bottom"}}}},
   {"data": {"values": [{"zero": 0}]}, "mark": {"type": "rule", "color": "#333", "strokeWidth": 1.3, "strokeDash": [1.5, 5]}, "encoding": {"y": {"field": "zero", "type": "quantitative"}}},
   {"data": {"name": "comps"},
    "transform": [{"filter": "datum.panel == 'g'"}, {"calculate": "indexof(['cnstr.','angle','bond','pair','pot.','kin.'], datum.comp)", "as": "k"}, {"stack": "value", "groupby": ["method"], "sort": [{"field": "k", "order": "ascending"}], "as": ["v0", "v1"], "offset": "zero"}],
    "encoding": {"x": {"field": "method", "type": "nominal", "scale": {"domain": ["group", "centroid"], "paddingInner": 0.2, "paddingOuter": 0.2},
       "axis": {"title": "(g)", "labelAngle": -45, "labelAlign": "right", "labelBaseline": "middle", "labelPadding": 14, "labelFontSize": 28, "labelOverlap": false, "ticks": false, "titleX": -34, "titleY": -268, "titleAngle": 0, "titleAlign": "center", "titleBaseline": "middle"}},
     "y": {"field": "v0", "type": "quantitative"}, "y2": {"field": "v1"}},
    "layer": [
     {"transform": [{"filter": "datum.comp == 'cnstr.'"}], "mark": {"type": "bar", "fill": {"expr": "gCnstr"}, "stroke": "#333", "strokeWidth": 1, "width": {"band": 1}}},
     {"transform": [{"filter": "datum.comp == 'angle'"}], "mark": {"type": "bar", "fill": {"expr": "gAngle"}, "stroke": "#333", "strokeWidth": 1, "width": {"band": 1}}},
     {"transform": [{"filter": "datum.comp == 'pair'"}], "mark": {"type": "bar", "fill": {"expr": "gPair"}, "stroke": "#333", "strokeWidth": 1, "width": {"band": 1}}},
     {"transform": [{"filter": "datum.comp == 'pair'"}], "mark": {"type": "bar", "fill": {"expr": "gHgrid"}, "strokeWidth": 0, "width": {"band": 1}}},
     {"transform": [{"filter": "datum.comp == 'pot.'"}], "mark": {"type": "bar", "fill": {"expr": "gPot"}, "stroke": "#333", "strokeWidth": 1, "width": {"band": 1}}},
     {"transform": [{"filter": "datum.comp == 'kin.'"}], "mark": {"type": "bar", "fill": "#fde3e3", "stroke": "#333", "strokeWidth": 1, "width": {"band": 1}}}
    ]},
   {"data": {"name": "comps"},
    "transform": [{"filter": "datum.panel == 'g'"}, {"calculate": "indexof(['cnstr.','angle','bond','pair','pot.','kin.'], datum.comp)", "as": "k"}, {"stack": "value", "groupby": ["method"], "sort": [{"field": "k", "order": "ascending"}], "as": ["v0", "v1"], "offset": "zero"}, {"window": [{"op": "rank", "as": "r"}], "sort": [{"field": "k", "order": "ascending"}], "groupby": ["method"]}, {"joinaggregate": [{"op": "count", "as": "n"}], "groupby": ["method"]}, {"calculate": "(datum.r - 1) / (datum.n - 1)", "as": "xo"}, {"filter": "datum.err > 0"}, {"calculate": "datum.v1 - datum.err", "as": "lo"}, {"calculate": "datum.v1 + datum.err", "as": "hi"}],
    "encoding": {"x": {"field": "method", "type": "nominal"}, "xOffset": {"field": "xo", "type": "quantitative", "scale": {"domain": [0, 1], "range": [12, 56]}}},
    "layer": [
     {"mark": {"type": "rule", "color": "#000", "strokeWidth": 1.2}, "encoding": {"y": {"field": "lo", "type": "quantitative"}, "y2": {"field": "hi"}}},
     {"mark": {"type": "tick", "orient": "horizontal", "color": "#000", "thickness": 1.3, "size": 13, "opacity": 1}, "encoding": {"y": {"field": "lo", "type": "quantitative"}}},
     {"mark": {"type": "tick", "orient": "horizontal", "color": "#000", "thickness": 1.3, "size": 13, "opacity": 1}, "encoding": {"y": {"field": "hi", "type": "quantitative"}}}
    ]},
   {"data": {"name": "totals"}, "transform": [{"filter": "datum.panel == 'g'"}, {"calculate": "datum.value - datum.err", "as": "lo"}, {"calculate": "datum.value + datum.err", "as": "hi"}],
    "encoding": {"x": {"field": "method", "type": "nominal"}},
    "layer": [
     {"mark": {"type": "rule", "color": "#a50000", "strokeWidth": 2}, "encoding": {"y": {"field": "lo", "type": "quantitative"}, "y2": {"field": "hi"}}},
     {"mark": {"type": "tick", "orient": "horizontal", "color": "#a50000", "thickness": 2.6, "size": 17, "opacity": 1}, "encoding": {"y": {"field": "lo", "type": "quantitative"}}},
     {"mark": {"type": "tick", "orient": "horizontal", "color": "#a50000", "thickness": 2.6, "size": 17, "opacity": 1}, "encoding": {"y": {"field": "hi", "type": "quantitative"}}},
     {"mark": {"type": "point", "filled": true, "color": "#a50000", "size": 22, "opacity": 1}, "encoding": {"y": {"field": "value", "type": "quantitative"}}}
    ]}
  ]},
 {"width": 188, "height": 238, "title": {"text": ["EMD", "TIP3P/Fs/cb"], "dx": 8}, "resolve": {"scale": {"xOffset": "independent"}},
  "layer": [
   {"data": {"name": "refs"}, "transform": [{"filter": "datum.panel == 'h'"}], "mark": {"type": "rule", "color": "#b0b0b0", "strokeWidth": 1.6, "strokeDash": [7, 4]},
    "encoding": {"y": {"field": "ref", "type": "quantitative", "scale": {"domain": [-0.2, 1.5], "nice": false, "zero": false, "clamp": true},
      "axis": {"title": "Therm. Cond. (W/mK)", "values": [0, 0.3, 0.6, 0.9, 1.2, 1.5], "labelOverlap": false, "labelExpr": "datum.value == 0 ? '0' : format(datum.value, '.1f')", "titleX": -70, "titleY": 119, "titleAngle": 270, "titleAlign": "center", "titleBaseline": "bottom"}}}},
   {"data": {"values": [{"zero": 0}]}, "mark": {"type": "rule", "color": "#333", "strokeWidth": 1.3, "strokeDash": [1.5, 5]}, "encoding": {"y": {"field": "zero", "type": "quantitative"}}},
   {"data": {"name": "comps"},
    "transform": [{"filter": "datum.panel == 'h'"}, {"calculate": "indexof(['cnstr.','angle','bond','pair','pot.','kin.'], datum.comp)", "as": "k"}, {"stack": "value", "groupby": ["method"], "sort": [{"field": "k", "order": "ascending"}], "as": ["v0", "v1"], "offset": "zero"}],
    "encoding": {"x": {"field": "method", "type": "nominal", "scale": {"domain": ["group", "centroid"], "paddingInner": 0.2, "paddingOuter": 0.2},
       "axis": {"title": "(h)", "labelAngle": -45, "labelAlign": "right", "labelBaseline": "middle", "labelPadding": 14, "labelFontSize": 28, "labelOverlap": false, "ticks": false, "titleX": -34, "titleY": -268, "titleAngle": 0, "titleAlign": "center", "titleBaseline": "middle"}},
     "y": {"field": "v0", "type": "quantitative"}, "y2": {"field": "v1"}},
    "layer": [
     {"transform": [{"filter": "datum.comp == 'cnstr.'"}], "mark": {"type": "bar", "fill": {"expr": "gCnstr"}, "stroke": "#333", "strokeWidth": 1, "width": {"band": 1}}},
     {"transform": [{"filter": "datum.comp == 'angle'"}], "mark": {"type": "bar", "fill": {"expr": "gAngle"}, "stroke": "#333", "strokeWidth": 1, "width": {"band": 1}}},
     {"transform": [{"filter": "datum.comp == 'pair'"}], "mark": {"type": "bar", "fill": {"expr": "gPair"}, "stroke": "#333", "strokeWidth": 1, "width": {"band": 1}}},
     {"transform": [{"filter": "datum.comp == 'pair'"}], "mark": {"type": "bar", "fill": {"expr": "gHgrid"}, "strokeWidth": 0, "width": {"band": 1}}},
     {"transform": [{"filter": "datum.comp == 'pot.'"}], "mark": {"type": "bar", "fill": {"expr": "gPot"}, "stroke": "#333", "strokeWidth": 1, "width": {"band": 1}}},
     {"transform": [{"filter": "datum.comp == 'kin.'"}], "mark": {"type": "bar", "fill": "#fde3e3", "stroke": "#333", "strokeWidth": 1, "width": {"band": 1}}}
    ]},
   {"data": {"name": "comps"},
    "transform": [{"filter": "datum.panel == 'h'"}, {"calculate": "indexof(['cnstr.','angle','bond','pair','pot.','kin.'], datum.comp)", "as": "k"}, {"stack": "value", "groupby": ["method"], "sort": [{"field": "k", "order": "ascending"}], "as": ["v0", "v1"], "offset": "zero"}, {"window": [{"op": "rank", "as": "r"}], "sort": [{"field": "k", "order": "ascending"}], "groupby": ["method"]}, {"joinaggregate": [{"op": "count", "as": "n"}], "groupby": ["method"]}, {"calculate": "(datum.r - 1) / (datum.n - 1)", "as": "xo"}, {"filter": "datum.err > 0"}, {"calculate": "datum.v1 - datum.err", "as": "lo"}, {"calculate": "datum.v1 + datum.err", "as": "hi"}],
    "encoding": {"x": {"field": "method", "type": "nominal"}, "xOffset": {"field": "xo", "type": "quantitative", "scale": {"domain": [0, 1], "range": [12, 56]}}},
    "layer": [
     {"mark": {"type": "rule", "color": "#000", "strokeWidth": 1.2}, "encoding": {"y": {"field": "lo", "type": "quantitative"}, "y2": {"field": "hi"}}},
     {"mark": {"type": "tick", "orient": "horizontal", "color": "#000", "thickness": 1.3, "size": 13, "opacity": 1}, "encoding": {"y": {"field": "lo", "type": "quantitative"}}},
     {"mark": {"type": "tick", "orient": "horizontal", "color": "#000", "thickness": 1.3, "size": 13, "opacity": 1}, "encoding": {"y": {"field": "hi", "type": "quantitative"}}}
    ]},
   {"data": {"name": "totals"}, "transform": [{"filter": "datum.panel == 'h'"}, {"calculate": "datum.value - datum.err", "as": "lo"}, {"calculate": "datum.value + datum.err", "as": "hi"}],
    "encoding": {"x": {"field": "method", "type": "nominal"}},
    "layer": [
     {"mark": {"type": "rule", "color": "#a50000", "strokeWidth": 2}, "encoding": {"y": {"field": "lo", "type": "quantitative"}, "y2": {"field": "hi"}}},
     {"mark": {"type": "tick", "orient": "horizontal", "color": "#a50000", "thickness": 2.6, "size": 17, "opacity": 1}, "encoding": {"y": {"field": "lo", "type": "quantitative"}}},
     {"mark": {"type": "tick", "orient": "horizontal", "color": "#a50000", "thickness": 2.6, "size": 17, "opacity": 1}, "encoding": {"y": {"field": "hi", "type": "quantitative"}}},
     {"mark": {"type": "point", "filled": true, "color": "#a50000", "size": 22, "opacity": 1}, "encoding": {"y": {"field": "value", "type": "quantitative"}}}
    ]}
  ]}
]
}
